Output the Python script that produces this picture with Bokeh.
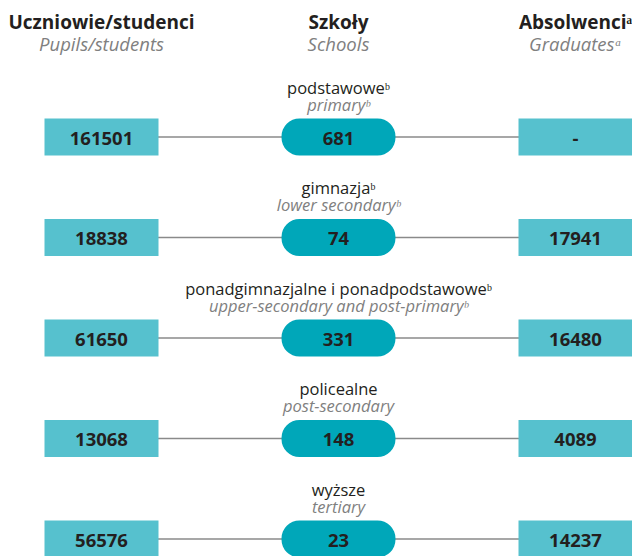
from bokeh.plotting import figure
from bokeh.models import Range1d, ColumnDataSource
from bokeh.core.properties import value
from bokeh.embed import file_html
from bokeh.resources import INLINE

# ---- data ----
levels_pl = ["podstawowe", "gimnazja", "ponadgimnazjalne i ponadpodstawowe", "policealne", "wyższe"]
levels_en = ["primary", "lower secondary", "upper-secondary and post-primary", "post-secondary", "tertiary"]
level_note = ["b", "b", "b", "", ""]
pupils = [161501, 18838, 61650, 13068, 56576]
schools = [681, 74, 331, 148, 23]
graduates = [None, 17941, 16480, 4089, 14237]

headers_pl = ["Uczniowie/studenci", "Szkoły", "Absolwenci"]
headers_en = ["Pupils/students", "Schools", "Graduates"]
header_note = ["", "", "a"]

SUP = {"a": "\u1d43", "b": "\u1d47", "": ""}

# ---- layout (reference pixel units) ----
W, H = 632, 556
COL_X = [101, 338, 575]
BOX_W = 114
BOX_H = 37
ROW_Y0 = 136.5
ROW_STEP = 100.5

def row_units(px):
    return (px - ROW_Y0) / ROW_STEP

FONT = "Open Sans"
DARK = "#231F20"
GREY = "#808080"
BOX_COLOR = "#56C1CE"
PILL_COLOR = "#00A7B9"
LINE_COLOR = "#8A8A8A"

p = figure(width=W, height=H, output_backend="svg", toolbar_location=None,
           x_range=Range1d(0, W), y_range=Range1d(row_units(H), row_units(0)),
           x_axis_location=None, y_axis_location=None, min_border=0)
p.grid.visible = False
p.outline_line_color = None
p.background_fill_color = "white"
p.border_fill_color = "white"

n = len(levels_pl)
rows = list(range(n))
half_h = BOX_H / 2 / ROW_STEP

# connecting lines
p.segment(x0=[COL_X[0]] * n, y0=rows, x1=[COL_X[2]] * n, y1=rows,
          line_color=LINE_COLOR, line_width=1.4)

# side boxes
for cx in (COL_X[0], COL_X[2]):
    p.quad(left=[cx - BOX_W / 2] * n, right=[cx + BOX_W / 2] * n,
           top=[r - half_h for r in rows], bottom=[r + half_h for r in rows],
           fill_color=BOX_COLOR, line_color=None)

# pills
p.quad(left=[COL_X[1] - BOX_W / 2] * n, right=[COL_X[1] + BOX_W / 2] * n,
       top=[r - half_h for r in rows], bottom=[r + half_h for r in rows],
       fill_color=PILL_COLOR, line_color=None, border_radius=18)

# numbers
num_y = [r + 1 / ROW_STEP for r in rows]
for cx, vals in ((COL_X[0], pupils), (COL_X[1], schools), (COL_X[2], graduates)):
    src = ColumnDataSource(dict(x=[cx] * n, y=num_y,
                                t=["-" if v is None else str(v) for v in vals]))
    p.text(x="x", y="y", text="t", source=src, text_font=value(FONT),
           text_font_style="bold", text_font_size="18.5px", text_color=DARK,
           text_align="center", text_baseline="middle")

# level labels
lab1 = ColumnDataSource(dict(x=[COL_X[1]] * n, y=[r - 50 / ROW_STEP for r in rows],
                             t=[s + SUP[f] for s, f in zip(levels_pl, level_note)]))
lab2 = ColumnDataSource(dict(x=[COL_X[1]] * n, y=[r - 33 / ROW_STEP for r in rows],
                             t=[s + SUP[f] for s, f in zip(levels_en, level_note)]))
p.text(x="x", y="y", text="t", source=lab1, text_font=value(FONT),
       text_font_size="16.5px", text_color=DARK, text_align="center", text_baseline="middle")
p.text(x="x", y="y", text="t", source=lab2, text_font=value(FONT),
       text_font_style="italic", text_font_size="16.5px", text_color=GREY,
       text_align="center", text_baseline="middle")

# headers
h1 = ColumnDataSource(dict(x=COL_X, y=[row_units(21)] * 3,
                           t=[s + SUP[f] for s, f in zip(headers_pl, header_note)]))
h2 = ColumnDataSource(dict(x=COL_X, y=[row_units(43)] * 3,
                           t=[s + SUP[f] for s, f in zip(headers_en, header_note)]))
p.text(x="x", y="y", text="t", source=h1, text_font=value(FONT),
       text_font_style="bold", text_font_size="19px", text_color=DARK,
       text_align="center", text_baseline="middle")
p.text(x="x", y="y", text="t", source=h2, text_font=value(FONT),
       text_font_style="italic", text_font_size="18.5px", text_color=GREY,
       text_align="center", text_baseline="middle")

open("out.html", "w").write(file_html(p, INLINE))
